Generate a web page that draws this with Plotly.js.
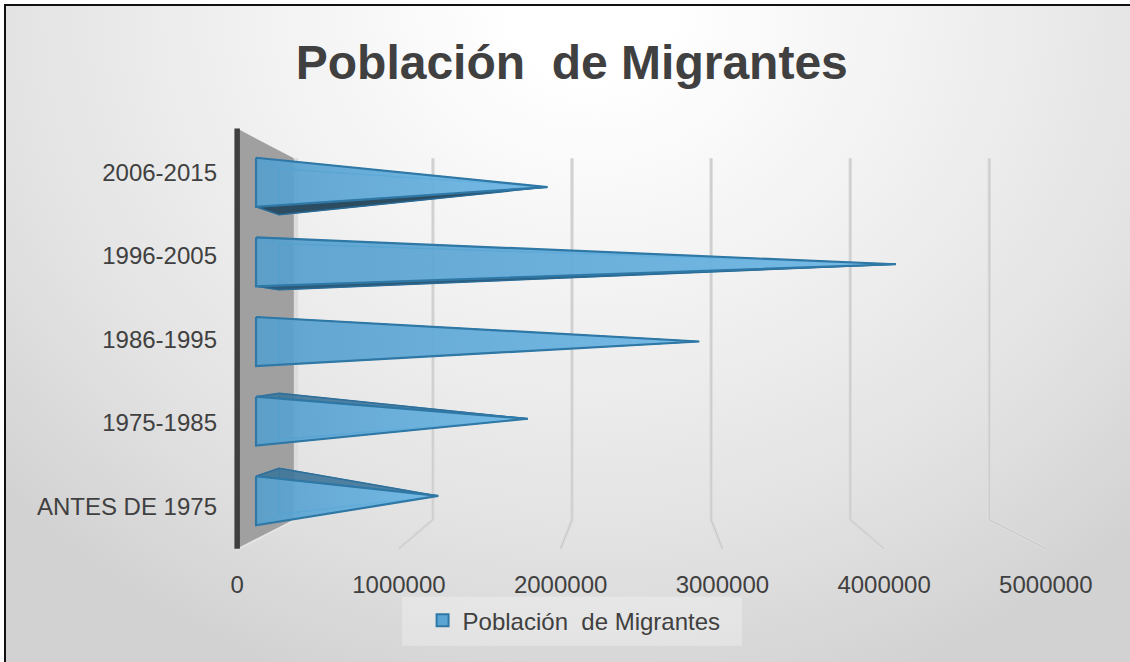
<!DOCTYPE html>
<html><head><meta charset="utf-8">
<script src="https://cdn.plot.ly/plotly-3.0.1.min.js"></script>
<style>
html,body{margin:0;padding:0;background:#fff;overflow:hidden}
#frame{position:absolute;left:4px;top:4px;width:1126px;height:658px;box-sizing:border-box;border-left:2px solid #111;border-top:2px solid #111;
background:radial-gradient(ellipse 800px 720px at 52% 0%,#ffffff 10%,#f0f0f0 45%,#e2e2e2 75%,#d2d2d2 100%)}
#chart{position:absolute;left:0;top:0;width:1130px;height:662px}
</style></head><body><div id="frame"></div><div id="chart"></div>
<script>
const categories=['ANTES DE 1975','1975-1985','1986-1995','1996-2005','2006-2015'];
const values=[1140000,1740000,2885000,4200000,1870000];
const xTicks=[0,1000000,2000000,3000000,4000000,5000000];
const seriesName='Población\u00a0 de Migrantes';

const vanishX=2503000, vanishY=2, backScale=0.86;
const barFront=0.30, barBack=0.71, barHalf=0.3075, wallTop=4.55, wallBottom=-0.48;
function scaleAt(d){const k=1/backScale-1;return 1/(1+k*d);}
function P(v,c,d){const s=scaleAt(d);return [vanishX+(v-vanishX)*s,vanishY+(c-vanishY)*s];}
function poly(points,fill,line,width,gradient){
  const pts=points.concat([points[0]]);
  const t={type:'scatter',mode:width?'lines':'none',x:pts.map(p=>p[0]),y:pts.map(p=>p[1]),fill:'toself',
    fillcolor:fill,line:{color:line||fill,width:width||0,shape:'linear'},showlegend:false,hoverinfo:'skip',cliponaxis:false};
  if(gradient)t.fillgradient={type:'horizontal',colorscale:gradient};
  return t;
}
function path(points,color,width){
  return {type:'scatter',mode:'lines',x:points.map(p=>p[0]),y:points.map(p=>p[1]),line:{color:color,width:width},
    showlegend:false,hoverinfo:'skip',cliponaxis:false};
}
const traces=[];
// back wall at zero
traces.push(path([P(0,wallTop,1),P(0,wallBottom,1)].map(p=>[p[0]+14000,p[1]]),'#dcdcdc',4));
traces.push(poly([P(0,wallTop,0),P(0,wallTop,1),P(0,wallBottom,1),P(0,wallBottom,0)],'#a0a0a0'));
traces.push(path([P(0,wallBottom,1),P(0,wallBottom,0)].map(p=>[p[0],p[1]-0.012]),'#e4e4e4',2));
// gridlines
xTicks.slice(1).forEach(v=>{
  const g=[P(v,wallTop,1),P(v,wallBottom,1),P(v,wallBottom,0)];
  traces.push(path(g,'#dcdcdc',3.5));
  traces.push(path(g,'#c6c6c6',1));
});
// pyramids
const order=[4,3,2,1,0];
order.forEach(i=>{
  const v=values[i],tip=P(v,i,0.5);
  const ft=P(0,i+barHalf,barFront),fb=P(0,i-barHalf,barFront),bt=P(0,i+barHalf,barBack),bb=P(0,i-barHalf,barBack);
  const edge='#2f78a6';
  const seeBelow=i>2, seeAbove=i<2;
  traces.push(poly([bt,bb,tip],'rgba(70,140,190,0.45)','#3b88b8',1));
  traces.push(poly([ft,fb,bb,bt],'rgba(70,140,190,0.35)','#4a96c4',1));
  traces.push(poly([ft,bt,tip],seeAbove?'rgba(60,115,150,0.82)':'rgba(84,160,208,0.55)',seeAbove?'#2f6f9a':'#4f9fcf',seeAbove?1.5:1));
  traces.push(poly([fb,bb,tip],seeBelow?(i===4?'#2c4c62':'#2c5a78'):'rgba(84,160,208,0.55)',seeBelow?'#2a6a94':'#4f9fcf',seeBelow?1.5:1));
  traces.push(poly([ft,fb,tip],'rgba(91,170,220,0.85)',edge,2.2,[[0,'rgba(86,160,206,0.85)'],[1,'rgba(112,186,232,0.9)']]));
});
// axis spine
traces.push(path([P(0,wallTop,0),P(0,wallBottom,0)],'#3f3f3f',5.5));
// legend key
traces.push({type:'scatter',mode:'markers',name:seriesName,x:[null],y:[null],
  marker:{symbol:'square',size:14,color:'#5aa5d3',line:{color:'#2f78a6',width:1.5}},showlegend:true,hoverinfo:'skip'});

const font={family:'"Liberation Sans",Arial,sans-serif',color:'#404040'};
const layout={
  width:1130,height:662,paper_bgcolor:'rgba(0,0,0,0)',plot_bgcolor:'rgba(0,0,0,0)',
  margin:{l:220.82,r:67.82,t:115.78,b:94.78},
  title:{text:seriesName,font:{...font,size:48,weight:'bold'},x:0.506,xanchor:'center',y:0.906,yanchor:'middle'},
  xaxis:{range:[-100000,5100000],tickvals:xTicks,ticktext:xTicks.map(String),showgrid:false,zeroline:false,showline:false,
    ticklen:0,tickfont:{...font,size:24},ticklabelstandoff:1},
  yaxis:{range:[-0.7,4.7],tickvals:categories.map((c,i)=>i),ticktext:categories,showgrid:false,zeroline:false,showline:false,
    ticklen:0,tickfont:{...font,size:24},ticklabelstandoff:3,ticklabelshift:-2},
  showlegend:true,
  legend:{x:0.2397,xref:'paper',xanchor:'left',y:-0.1191,yref:'paper',yanchor:'middle',orientation:'h',bgcolor:'rgba(0,0,0,0)',
    font:{...font,size:24},itemsizing:'constant'},
  shapes:[{type:'rect',xref:'paper',yref:'paper',layer:'below',x0:0.2153,x1:0.6195,y0:-0.1745,y1:-0.066,
    fillcolor:'rgba(255,255,255,0.28)',line:{width:0}}]
};
Plotly.newPlot('chart',traces,layout,{displayModeBar:false,staticPlot:true}).then(()=>{
  const key=document.querySelector('.legend .legendpoints');
  if(key)key.parentNode.insertBefore(key,key);
});
</script></body></html>
